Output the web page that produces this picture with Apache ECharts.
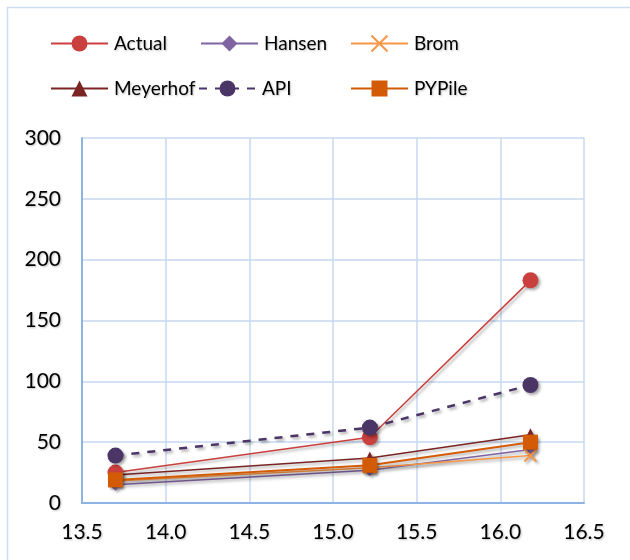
<!DOCTYPE html>
<html>
<head>
<meta charset="utf-8">
<script src="https://cdn.jsdelivr.net/npm/echarts@6/dist/echarts.min.js"></script>
<style>
  html, body { margin: 0; padding: 0; background: #fff; }
  #chart { width: 630px; height: 560px; }
</style>
</head>
<body>
<div id="chart"></div>
<script>
// Pile length (x) and capacity results for each method
const depths = [13.7, 15.22, 16.18];
const actual = [25, 54, 183];
const hansen = [15, 27, 44];
const brom = [18, 29, 39];
const meyerhof = [23, 37, 56];
const api = [39, 62, 97];
const pypile = [19, 31, 50];

const xTicks = { min: 13.5, max: 16.5, step: 0.5 };
const yTicks = { min: 0, max: 300, step: 50 };

const FONT = 'Lato, "Open Sans", sans-serif';
const shadow = { shadowBlur: 3, shadowOffsetX: 2, shadowOffsetY: 2, shadowColor: 'rgba(0,0,0,0.35)' };
const textShadow = { textShadowColor: 'rgba(0,0,0,0.25)', textShadowBlur: 2, textShadowOffsetX: 1, textShadowOffsetY: 1 };
const crossPath = 'path://M0,0 L10,10 M10,0 L0,10';

function pairs(vals) {
  return depths.map((d, i) => [d, vals[i]]);
}

const seriesDefs = [
  { name: 'Actual', data: actual, color: '#C9403E', symbol: 'circle', size: 16, lineType: 'solid', width: 1.5 },
  { name: 'Hansen', data: hansen, color: '#8064A2', symbol: 'diamond', size: 12, lineType: 'solid', width: 1.5 },
  { name: 'Brom', data: brom, color: '#F79646', symbol: crossPath, size: 12, lineType: 'solid', width: 1.5, cross: true },
  { name: 'Meyerhof', data: meyerhof, color: '#7A2424', symbol: 'triangle', size: 13, lineType: 'solid', width: 1.5 },
  { name: 'API', data: api, color: '#4B3566', symbol: 'circle', size: 16, lineType: [8, 8], width: 2.5 },
  { name: 'PYPile', data: pypile, color: '#D35B05', symbol: 'rect', size: 15, lineType: 'solid', width: 2 }
];

const series = seriesDefs.map(d => ({
  name: d.name,
  type: 'line',
  data: pairs(d.data),
  symbol: d.symbol,
  symbolSize: d.size,
  showAllSymbol: true,
  z: d.name === 'PYPile' ? 4 : (d.name === 'Actual' || d.name === 'API' ? 3 : 2),
  lineStyle: Object.assign({ color: d.color, width: d.width, type: d.lineType }, shadow),
  itemStyle: Object.assign(
    d.cross
      ? { color: 'rgba(0,0,0,0)', borderColor: d.color, borderWidth: 2 }
      : { color: d.color, borderColor: d.color, borderWidth: 0 },
    shadow
  ),
  emphasis: { disabled: true }
}));

// legend placement: three columns, two rows
const legendPos = {
  Actual:   { left: 50,  top: 34 },
  Hansen:   { left: 200, top: 34 },
  Brom:     { left: 350, top: 34 },
  Meyerhof: { left: 50,  top: 79 },
  API:      { left: 198, top: 79 },
  PYPile:   { left: 350, top: 79 }
};

const legends = seriesDefs.map(d => ({
  data: [d.name],
  left: legendPos[d.name].left,
  top: legendPos[d.name].top,
  itemWidth: 57,
  itemHeight: 20,
  itemGap: 0,
  padding: 0,
  selectedMode: false,
  textStyle: Object.assign({ fontFamily: FONT, fontSize: 19, color: '#000', padding: [0, 0, 0, 1] }, textShadow)
}));

const chart = echarts.init(document.getElementById('chart'));
chart.setOption({
  animation: false,
  backgroundColor: '#fff',
  graphic: [{
    type: 'rect',
    shape: { x: 7.5, y: 7.5, width: 640, height: 580 },
    style: { fill: 'none', stroke: '#CCDDF0', lineWidth: 1.5 },
    silent: true
  }],
  legend: legends,
  grid: { left: 82, right: 46, top: 138, bottom: 57 },
  xAxis: {
    type: 'value',
    min: xTicks.min, max: xTicks.max, interval: xTicks.step,
    axisLine: { show: true, onZero: false, lineStyle: { color: '#8DB3E2', width: 2 } },
    axisTick: { show: false },
    splitLine: { show: true, lineStyle: { color: '#C6D9F1', width: 1.5 } },
    axisLabel: Object.assign({ fontFamily: FONT, fontSize: 21, color: '#000', margin: 19,
      formatter: v => v.toFixed(1) }, textShadow)
  },
  yAxis: {
    type: 'value',
    min: yTicks.min, max: yTicks.max, interval: yTicks.step,
    axisLine: { show: true, lineStyle: { color: '#8DB3E2', width: 2 } },
    axisTick: { show: false },
    splitLine: { show: true, lineStyle: { color: '#C6D9F1', width: 1.5 } },
    axisLabel: Object.assign({ fontFamily: FONT, fontSize: 21, color: '#000', margin: 21 }, textShadow)
  },
  series: series
});
</script>
</body>
</html>
